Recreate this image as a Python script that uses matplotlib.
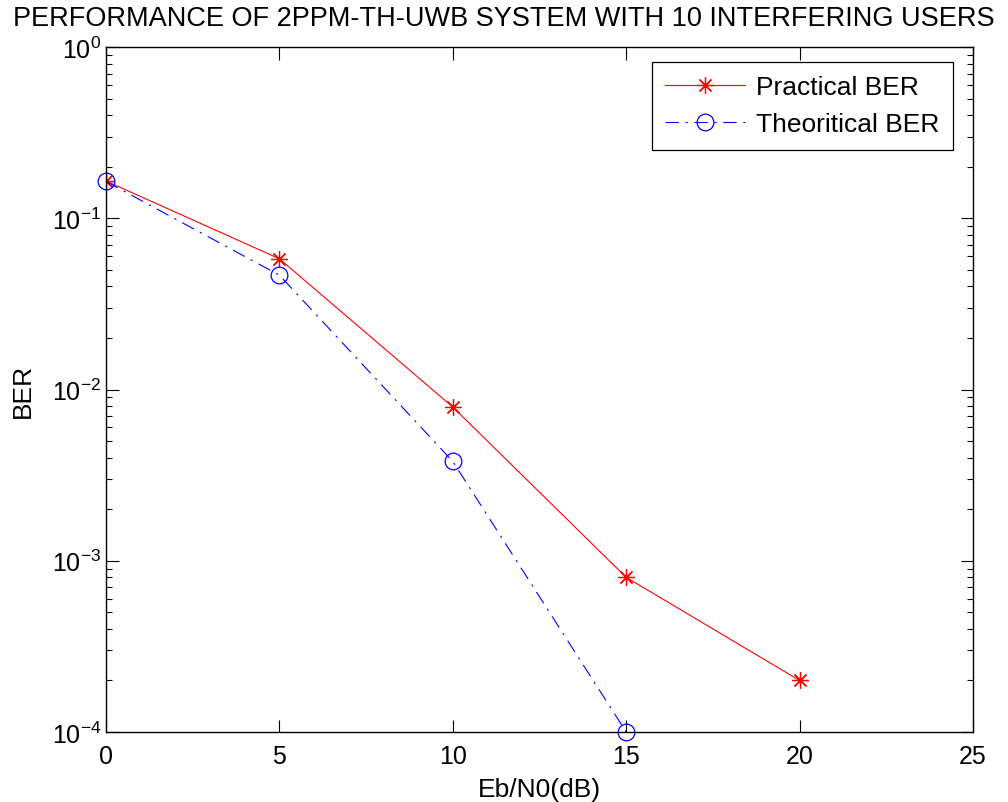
import matplotlib
matplotlib.use("Agg")
import matplotlib.pyplot as plt
from matplotlib.ticker import LogLocator, NullFormatter

plt.rcParams['font.family'] = ['Liberation Sans', 'DejaVu Sans']
plt.rcParams['mathtext.fontset'] = 'custom'
plt.rcParams['mathtext.rm'] = 'Liberation Sans'
plt.rcParams['mathtext.it'] = 'Liberation Sans'

# data
ebn0_prac = [0, 5, 10, 15, 20]
ber_prac = [0.165, 0.058, 0.0079, 0.0008, 0.0002]
ebn0_theo = [0, 5, 10, 15]
ber_theo = [0.164, 0.0465, 0.0038, 0.0001]
x_ticks = [0, 5, 10, 15, 20, 25]
y_ticks = [1e-4, 1e-3, 1e-2, 1e-1, 1e0]
y_tick_labels = [r'$\mathregular{10^{-4}}$', r'$\mathregular{10^{-3}}$', r'$\mathregular{10^{-2}}$',
                 r'$\mathregular{10^{-1}}$', r'$\mathregular{10^{0}}$']

fig = plt.figure(figsize=(10.08, 8.03), dpi=100)
ax = fig.add_axes([106 / 1008, 1 - 733 / 803, (973 - 106) / 1008, (733 - 48) / 803])

ax.semilogy(ebn0_prac, ber_prac, color='red', linestyle='-', linewidth=0.8,
            marker=(8, 2, 0), markersize=12, markeredgewidth=0.9, label='Practical BER')
ax.semilogy(ebn0_theo, ber_theo, color='blue', linestyle='-.', linewidth=0.8,
            dashes=(12, 6, 2, 6), marker='o', markersize=12, markerfacecolor='none',
            markeredgewidth=0.9, label='Theoritical BER', clip_on=False)

ax.set_xlim(0, 25)
ax.set_ylim(1e-4, 1)
ax.set_xticks(x_ticks)
ax.set_yticks(y_ticks)
ax.set_yticklabels(y_tick_labels)
ax.yaxis.set_minor_locator(LogLocator(base=10, subs=range(2, 10), numticks=20))
ax.yaxis.set_minor_formatter(NullFormatter())

ax.tick_params(which='both', direction='in', top=True, right=True, labelsize=18)
ax.tick_params(which='major', length=9, width=0.8)
ax.tick_params(which='minor', length=4, width=0.8)
ax.tick_params(axis='x', pad=9)
for s in ax.spines.values():
    s.set_linewidth(1.0)

ax.set_xlabel('Eb/N0(dB)', fontsize=19, labelpad=6)
ax.set_ylabel('BER', fontsize=19, labelpad=12)
fig.text(504 / 1008, 1 - 19 / 803, 'PERFORMANCE OF 2PPM-TH-UWB SYSTEM WITH 10 INTERFERING USERS',
         ha='center', va='center', fontsize=19.5)

leg = ax.legend(loc='upper right', bbox_to_anchor=(953 / 1008, 1 - 63 / 803),
                bbox_transform=fig.transFigure, fontsize=19, fancybox=False,
                edgecolor='black', framealpha=1, handlelength=3.0, borderpad=0.5,
                labelspacing=0.5, handletextpad=0.45, borderaxespad=0)
leg.get_frame().set_linewidth(0.9)

fig.savefig('out.png', dpi=100)
